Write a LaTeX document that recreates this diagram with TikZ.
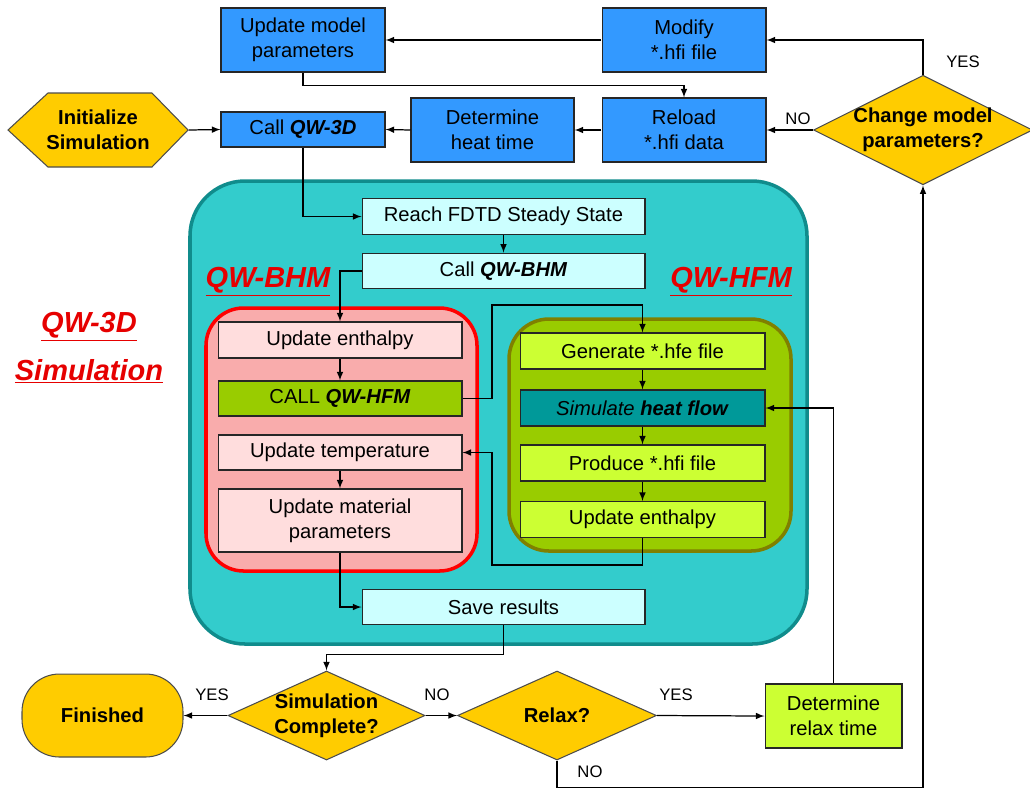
\documentclass[tikz,border=0pt]{standalone}
\usepackage{fontspec}
\setmainfont{Liberation Sans}
\usetikzlibrary{shapes.geometric}

\definecolor{qwblue}{RGB}{51,153,255}
\definecolor{qwyellow}{RGB}{255,204,0}
\definecolor{qwteal}{RGB}{51,204,204}
\definecolor{qwtealdk}{RGB}{16,140,140}
\definecolor{qwcyan}{RGB}{204,255,255}
\definecolor{qwrose}{RGB}{249,172,172}
\definecolor{qwpink}{RGB}{255,221,221}
\definecolor{qwgreen}{RGB}{153,204,0}
\definecolor{qwolive}{RGB}{128,128,0}
\definecolor{qwlime}{RGB}{204,255,51}
\definecolor{qwdteal}{RGB}{0,153,153}
\definecolor{qwred}{RGB}{230,0,0}

\tikzset{
  flow/.style={rectangle, draw=black!85, line width=0.6pt, align=center, inner sep=2pt,
    font=\fontsize{11.5}{14}\selectfont},
  bluebox/.style={flow, fill=qwblue},
  cyanbox/.style={flow, fill=qwcyan, minimum width=5.66cm, minimum height=0.71cm},
  pinkbox/.style={flow, fill=qwpink, minimum width=4.88cm},
  limebox/.style={flow, fill=qwlime},
  hfmbox/.style={flow, minimum width=4.9cm, minimum height=0.72cm},
  decide/.style={diamond, draw=black!70, line width=0.6pt, fill=qwyellow, align=center,
    inner xsep=-2pt, inner ysep=0pt, font=\fontsize{11.5}{14}\selectfont\bfseries},
  startnode/.style={align=center, inner sep=0pt, font=\fontsize{11.5}{14}\selectfont\bfseries},
  tag/.style={inner sep=1pt, font=\fontsize{9.5}{11}\selectfont},
  title/.style={anchor=base, text=qwred, inner sep=0pt,
    font=\fontsize{16.5}{19}\selectfont\bfseries\itshape},
}

\begin{document}
\begin{tikzpicture}[x=0.02cm, y=-0.02cm, >=latex, line width=0.7pt]
\useasboundingbox (0,0) rectangle (1030,789);

% regions
\draw[fill=qwteal, draw=qwtealdk, line width=2pt, rounded corners=1.1cm] (190,181) rectangle (807,644);
\draw[fill=qwrose, draw=red, line width=2pt, rounded corners=0.75cm] (206,308) rectangle (477,571);
\draw[fill=qwgreen, draw=qwolive, line width=2pt, rounded corners=0.8cm] (509,319) rectangle (791,551);
\filldraw[fill=qwyellow, draw=black!70, line width=0.6pt]
  (8,130) -- (48,93) -- (152,93) -- (188,130) -- (152,167) -- (48,167) -- cycle;

% titles
\node[title] (t3d) at (89,332) {\underline{QW-3D}};
\node[title] (tsim) at (89,380) {\underline{Simulation}};
\node[title] (tbhm) at (268,287) {\underline{QW-BHM}};
\node[title] (thfm) at (731,287) {\underline{QW-HFM}};

% top row
\node[startnode, minimum width=3.6cm, minimum height=1.46cm] (init) at (98,130) {Initialize\\Simulation};
\node[bluebox, minimum width=3.28cm, minimum height=1.28cm] (updmodel) at (303,40) {Update model\\parameters};
\node[bluebox, minimum width=3.28cm, minimum height=1.28cm] (modify) at (684,40) {Modify\\*.hfi file};
\node[bluebox, minimum width=3.28cm, minimum height=0.7cm] (callqw) at (303,129.5) {Call \textbf{\textit{QW-3D}}};
\node[bluebox, minimum width=3.26cm, minimum height=1.28cm] (heattime) at (492.5,130) {Determine\\heat time};
\node[bluebox, minimum width=3.28cm, minimum height=1.28cm] (reload) at (684,130) {Reload\\*.hfi data};
\node[decide, shape aspect=2, minimum width=4.3cm, minimum height=2.16cm] (change) at (923,130) {Change model\\parameters?};

% QW-3D
\node[cyanbox] (reach) at (503.5,216.5) {Reach FDTD Steady State};
\node[cyanbox] (callbhm) at (503.5,271) {Call \textbf{\textit{QW-BHM}}};
\node[cyanbox] (save) at (503.5,607) {Save results};

% QW-BHM
\node[pinkbox, minimum height=0.72cm] (upenth) at (340,340) {Update enthalpy};
\node[flow, fill=qwgreen, minimum width=4.88cm, minimum height=0.7cm] (callhfm) at (340,398.5) {CALL \textbf{\textit{QW-HFM}}};
\node[pinkbox, minimum height=0.7cm] (uptemp) at (340,452.5) {Update temperature};
\node[pinkbox, minimum height=1.26cm] (upmat) at (340,520.5) {Update material\\parameters};

% QW-HFM
\node[hfmbox, fill=qwlime] (generate) at (642.5,351) {Generate *.hfe file};
\node[hfmbox, fill=qwdteal] (simulate) at (642.5,408) {\textit{Simulate \textbf{heat flow}}};
\node[hfmbox, fill=qwlime] (produce) at (642.5,463) {Produce *.hfi file};
\node[hfmbox, fill=qwlime] (upenthb) at (642.5,519.5) {Update enthalpy};

% bottom row
\node[startnode, draw=black!70, line width=0.6pt, fill=qwyellow, rounded corners=0.75cm,
  minimum width=3.22cm, minimum height=1.66cm] (finished) at (102.5,715.5) {Finished};
\node[decide, shape aspect=2.21, minimum width=3.94cm, minimum height=1.78cm] (simdone) at (326.5,715.5) {Simulation\\Complete?};
\node[decide, shape aspect=2.24, minimum width=3.98cm, minimum height=1.78cm] (relax) at (557,715.5) {Relax?};
\node[limebox, minimum width=2.74cm, minimum height=1.28cm] (relaxtime) at (833.5,716) {Determine\\relax time};

\coordinate (bendA) at (492,305);
\coordinate (bendB) at (492,565);

% connectors
\draw[->] (change.north) |- (modify.east);
\draw[->] (modify.west) -- (updmodel.east);
\draw[->] (updmodel.south) -- ++(0,13) -| (reload.north);
\draw[->] (change.west) -- (reload.east);
\draw[->] (reload.west) -- (heattime.east);
\draw[->] (heattime.west) -- (callqw.east);
\draw[->] (init.east) -- (callqw.west);
\draw[->] (callqw.south) |- (reach.west);
\draw[->] (callbhm.west) -| (upenth.north);
\draw[->] (callhfm.east) -| (bendA) -| (generate.north);
\draw[->] (upenthb.south) |- (bendB) |- (uptemp.east);
\draw[->] (upmat.south) |- (save.west);
\foreach \a/\b in {reach/callbhm,upenth/callhfm,uptemp/upmat,generate/simulate,simulate/produce,produce/upenthb}
  \draw[->] (\a) -- (\b);
\draw[->] (save.south) -- ++(0,29) -| (simdone.north);
\draw[->] (simdone.west) -- (finished.east);
\draw[->] (simdone.east) -- (relax.west);
\draw[->] (relax.east) -- (relaxtime.west);
\draw[->] (relaxtime.north) |- (simulate.east);
\draw[->] (relax.south) -- ++(0,27) -| (change.south);

% answers
\node[tag] (yes1) at (963,62) {YES};
\node[tag] (no1) at (798,119) {NO};
\node[tag] (yes2) at (212,695) {YES};
\node[tag] (no2) at (437,695) {NO};
\node[tag] (yes3) at (676,695) {YES};
\node[tag] (no3) at (590,772) {NO};
\end{tikzpicture}
\end{document}
